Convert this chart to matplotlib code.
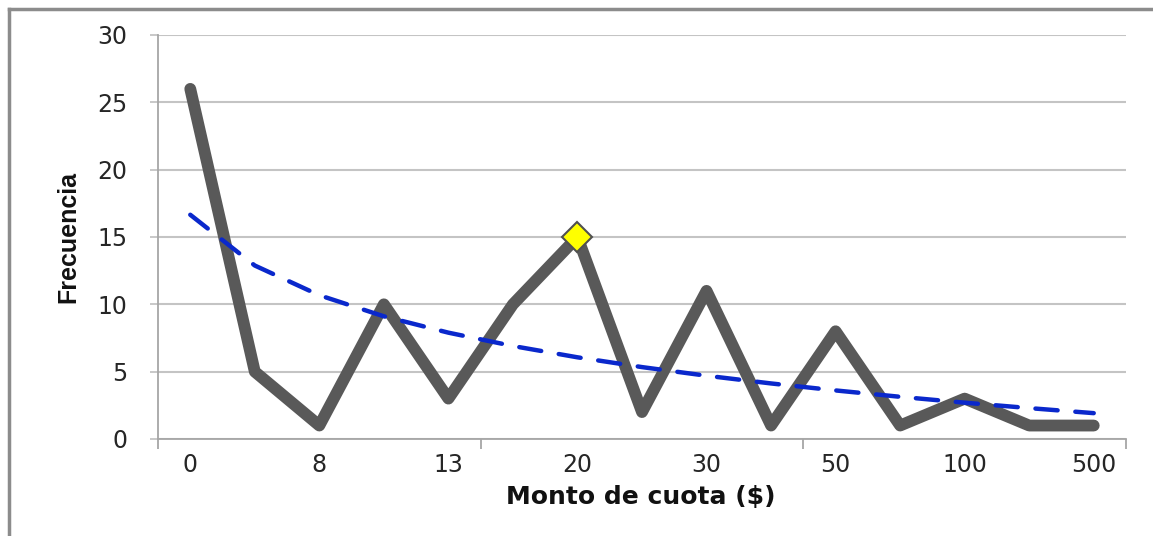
import matplotlib
matplotlib.use('Agg')

import matplotlib.pyplot as plt
from matplotlib.lines import Line2D
import numpy as np

plt.rcParams['font.family'] = ['DejaVu Sans']

# Datos: frecuencia por monto de cuota
montos = ['0', '', '8', '', '13', '', '20', '', '30', '', '50', '', '100', '', '500']
frecuencia = [26, 5, 1, 10, 3, 10, 15, 2, 11, 1, 8, 1, 3, 1, 1]
idx_destacado = 6  # punto marcado con el rombo amarillo

x = np.arange(len(frecuencia))
y = np.array(frecuencia, dtype=float)

# Línea de tendencia logarítmica (ajuste por mínimos cuadrados, x = 1..n)
ln_x = np.log(x + 1)
a, b = np.polyfit(ln_x, y, 1)
tendencia = a * ln_x + b

fig = plt.figure(figsize=(11.53, 5.36), dpi=100)
ax = fig.add_axes([158 / 1153, 1 - 439 / 536, (1126 - 158) / 1153, (439 - 35) / 536])

# Marco gris del gráfico (solo borde izquierdo y superior quedan dentro)
x0, y0 = 9 / 1153, 1 - 9 / 536
fig.add_artist(Line2D([x0, x0], [0, y0], transform=fig.transFigure,
                      color='#8c8c8c', linewidth=2.5, solid_capstyle='projecting'))
fig.add_artist(Line2D([x0, 1], [y0, y0], transform=fig.transFigure,
                      color='#8c8c8c', linewidth=2.5, solid_capstyle='projecting'))

ax.plot(x, y, color='#595959', linewidth=8.5, solid_capstyle='round',
        solid_joinstyle='round', zorder=3)
ax.plot(x, tendencia, color='#0a28cc', linewidth=3.2, dashes=(5, 4),
        dash_capstyle='round', zorder=4)
ax.plot(x[idx_destacado], y[idx_destacado], marker='D', markersize=15,
        markerfacecolor='#ffff00', markeredgecolor='#505050',
        markeredgewidth=1.5, zorder=5)

ax.set_xlim(-0.5, len(frecuencia) - 0.5)
ax.set_ylim(0, 30)
ax.set_yticks(np.arange(0, 31, 5))
ax.set_xticks(x[::2])
ax.set_xticklabels(montos[::2])
ax.set_xticks([-0.5, 4.5, 9.5, 14.5], minor=True)

ax.grid(axis='y', color='#c4c4c4', linewidth=1.5, zorder=0)
for lado in ['top', 'right']:
    ax.spines[lado].set_visible(False)
for lado in ['left', 'bottom']:
    ax.spines[lado].set_color('#a6a6a6')
    ax.spines[lado].set_linewidth(1.3)

ax.tick_params(axis='y', direction='out', length=6, width=1.3, color='#c4c4c4',
               pad=16, labelsize=17, labelcolor='#262626')
ax.tick_params(axis='x', which='major', length=0, pad=10, labelsize=17,
               labelcolor='#262626')
ax.tick_params(axis='x', which='minor', direction='out', length=7, width=1.3,
               color='#a6a6a6')

fig.text(68 / 1153, 1 - 237 / 536, 'Frecuencia', rotation=90, ha='center',
         va='center', fontsize=18, fontweight='bold', color='#111111',
         family=['Liberation Sans', 'DejaVu Sans'])
fig.text(641 / 1153, 1 - 497 / 536, 'Monto de cuota ($)', ha='center',
         va='center', fontsize=18, fontweight='bold', color='#111111')

plt.savefig('out.png', dpi=100)
